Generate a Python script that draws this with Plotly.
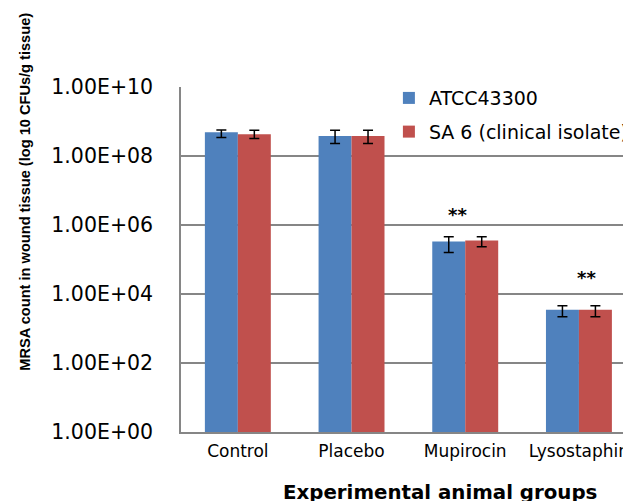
import math
import plotly.graph_objects as go

# ---- data ----
groups = ["Control", "Placebo", "Mupirocin", "Lysostaphin"]
series_names = ["ATCC43300", "SA 6 (clinical isolate)"]
atcc = [4.9e8, 3.8e8, 3.3e5, 3.5e3]
atcc_err_plus = [0.8e8, 1.8e8, 1.3e5, 1.1e3]
atcc_err_minus = [1.45e8, 1.5e8, 1.7e5, 1.3e3]
sa6 = [4.3e8, 3.8e8, 3.56e5, 3.5e3]
sa6_err_plus = [1.3e8, 1.8e8, 1.0e5, 1.1e3]
sa6_err_minus = [1.1e8, 1.5e8, 1.2e5, 1.3e3]
sig_labels = ["", "", "**", "**"]
tick_values = [1e0, 1e2, 1e4, 1e6, 1e8, 1e10]
tick_labels = ["1.00E+00", "1.00E+02", "1.00E+04", "1.00E+06", "1.00E+08", "1.00E+10"]

BLUE = "#4F81BD"
RED = "#C0504D"
FONT = "DejaVu Sans"
PAGE_MARGIN = 8  # default browser body margin around the plot div

fig = go.Figure()
for name, vals, ep, em, col, grp in [
    (series_names[0], atcc, atcc_err_plus, atcc_err_minus, BLUE, "a"),
    (series_names[1], sa6, sa6_err_plus, sa6_err_minus, RED, "b"),
]:
    fig.add_trace(go.Bar(
        x=groups, y=vals, name=name, legendgroup=grp,
        marker=dict(color=col, line=dict(width=0)),
        error_y=dict(type="data", array=ep, arrayminus=em, symmetric=False,
                     color="black", thickness=1.5, width=5),
    ))

# significance markers
shifts = [(0, 0), (0, 0), (-8, 22), (8, 28)]
for i, lab in enumerate(sig_labels):
    if not lab:
        continue
    top = max(atcc[i] + atcc_err_plus[i], sa6[i] + sa6_err_plus[i])
    fig.add_annotation(x=groups[i], y=math.log10(top), text=lab, showarrow=False,
                       xshift=shifts[i][0], yshift=shifts[i][1],
                       xanchor="center", yanchor="middle",
                       font=dict(family=FONT, size=18, color="black", weight="bold"))

# axis titles as annotations
fig.add_annotation(xref="paper", yref="paper", x=-0.347, y=0.696,
                   xanchor="center", yanchor="middle",
                   text="MRSA count in wound tissue (log 10 CFUs/g tissue)",
                   textangle=-90, showarrow=False,
                   font=dict(family="Liberation Sans", size=14.6, color="black", weight="bold"))
fig.add_annotation(xref="paper", yref="paper", x=0.576, y=-0.174,
                   xanchor="center", yanchor="middle",
                   text="Experimental animal groups", showarrow=False,
                   font=dict(family=FONT, size=19.8, color="black", weight="bold"))

fig.update_layout(
    width=631 - PAGE_MARGIN, height=501 - PAGE_MARGIN,
    margin=dict(l=181 - PAGE_MARGIN, r=0, t=87 - PAGE_MARGIN, b=69, autoexpand=False),
    paper_bgcolor="white", plot_bgcolor="white",
    barmode="group", bargap=0.42, bargroupgap=0,
    font=dict(family=FONT, color="black"),
    legend=dict(x=0.462, y=1.023, xanchor="left", yanchor="top",
                bgcolor="rgba(0,0,0,0)", font=dict(family=FONT, size=19, color="black"),
                traceorder="grouped", tracegroupgap=6),
    showlegend=True,
)
fig.update_xaxes(
    range=[-0.5, 3.458], showline=True, linecolor="#868686", linewidth=1.5,
    showgrid=False, ticks="", tickfont=dict(family=FONT, size=17, color="black"),
    ticklabelstandoff=3,
)
fig.update_yaxes(
    type="log", range=[0, 10], tickmode="array", tickvals=tick_values, ticktext=tick_labels,
    showline=True, linecolor="#868686", linewidth=1.5,
    showgrid=True, gridcolor="#868686", gridwidth=1.5, zeroline=False,
    ticks="", tickfont=dict(family=FONT, size=20.5, color="black"), ticklabelstandoff=22,
)

fig.write_html("out.html")
